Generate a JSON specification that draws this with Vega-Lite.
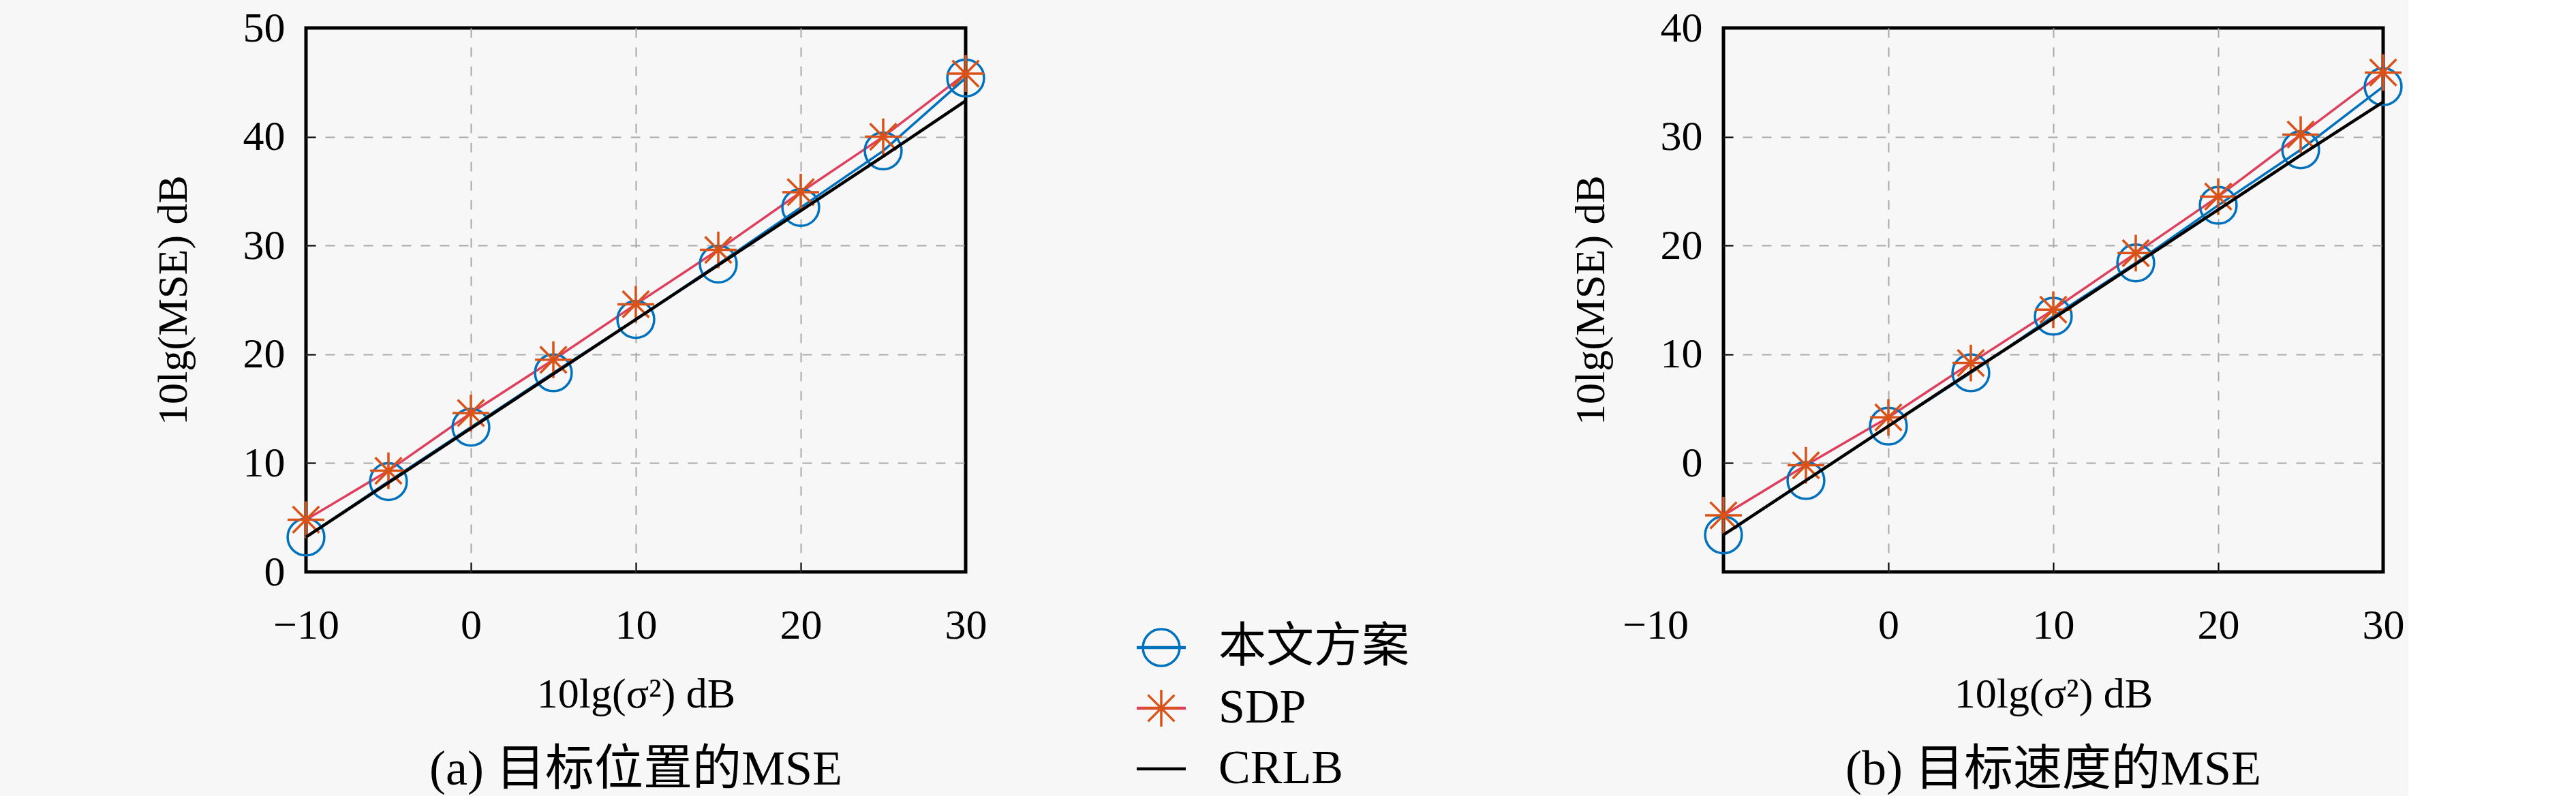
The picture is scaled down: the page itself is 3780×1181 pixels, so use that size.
{
  "$schema": "https://vega.github.io/schema/vega-lite/v6.json",
  "background": "#f7f7f7",
  "padding": {"left": 220, "top": 7, "right": 0, "bottom": 0},
  "spacing": 79,
  "config": {
    "font": "Liberation Serif, Noto Sans CJK SC",
    "view": {"stroke": "#000000", "strokeWidth": 5},
    "axis": {
      "domain": false,
      "grid": true,
      "gridDash": [14, 14],
      "gridColor": "#a8a8a8",
      "gridWidth": 2,
      "ticks": true,
      "tickColor": "#000000",
      "tickSize": -14,
      "tickWidth": 2,
      "labelFontSize": 62,
      "labelColor": "#000000",
      "labelFlush": false,
      "labelOverlap": false,
      "titleFontSize": 62,
      "titleFontWeight": "normal",
      "titleColor": "#000000"
    },
    "axisX": {"labelPadding": 62, "titlePadding": 40},
    "axisY": {"labelPadding": 45, "titlePadding": 70},
    "title": {"fontSize": 72, "fontWeight": "normal", "color": "#000000", "orient": "bottom", "offset": 45}
  },
  "datasets": {
    "pos": [
      {"x": -10, "series": "本文方案", "mse": 3.2},
      {"x": -5, "series": "本文方案", "mse": 8.3},
      {"x": 0, "series": "本文方案", "mse": 13.3},
      {"x": 5, "series": "本文方案", "mse": 18.3},
      {"x": 10, "series": "本文方案", "mse": 23.2},
      {"x": 15, "series": "本文方案", "mse": 28.3},
      {"x": 20, "series": "本文方案", "mse": 33.5},
      {"x": 25, "series": "本文方案", "mse": 38.7},
      {"x": 30, "series": "本文方案", "mse": 45.4},
      {"x": -10, "series": "SDP", "mse": 4.8},
      {"x": -5, "series": "SDP", "mse": 9.3},
      {"x": 0, "series": "SDP", "mse": 14.6},
      {"x": 5, "series": "SDP", "mse": 19.5},
      {"x": 10, "series": "SDP", "mse": 24.6},
      {"x": 15, "series": "SDP", "mse": 29.6},
      {"x": 20, "series": "SDP", "mse": 34.9},
      {"x": 25, "series": "SDP", "mse": 40.0},
      {"x": 30, "series": "SDP", "mse": 45.8},
      {"x": -10, "series": "CRLB", "mse": 3.2},
      {"x": -5, "series": "CRLB", "mse": 8.2},
      {"x": 0, "series": "CRLB", "mse": 13.2},
      {"x": 5, "series": "CRLB", "mse": 18.2},
      {"x": 10, "series": "CRLB", "mse": 23.2},
      {"x": 15, "series": "CRLB", "mse": 28.2},
      {"x": 20, "series": "CRLB", "mse": 33.2},
      {"x": 25, "series": "CRLB", "mse": 38.2},
      {"x": 30, "series": "CRLB", "mse": 43.3}
    ],
    "vel": [
      {"x": -10, "series": "本文方案", "mse": -6.6},
      {"x": -5, "series": "本文方案", "mse": -1.6},
      {"x": 0, "series": "本文方案", "mse": 3.4},
      {"x": 5, "series": "本文方案", "mse": 8.3},
      {"x": 10, "series": "本文方案", "mse": 13.5},
      {"x": 15, "series": "本文方案", "mse": 18.4},
      {"x": 20, "series": "本文方案", "mse": 23.7},
      {"x": 25, "series": "本文方案", "mse": 28.8},
      {"x": 30, "series": "本文方案", "mse": 34.6},
      {"x": -10, "series": "SDP", "mse": -4.8},
      {"x": -5, "series": "SDP", "mse": -0.2},
      {"x": 0, "series": "SDP", "mse": 4.2},
      {"x": 5, "series": "SDP", "mse": 9.2},
      {"x": 10, "series": "SDP", "mse": 14.1},
      {"x": 15, "series": "SDP", "mse": 19.3},
      {"x": 20, "series": "SDP", "mse": 24.5},
      {"x": 25, "series": "SDP", "mse": 30.2},
      {"x": 30, "series": "SDP", "mse": 35.9},
      {"x": -10, "series": "CRLB", "mse": -6.6},
      {"x": -5, "series": "CRLB", "mse": -1.6},
      {"x": 0, "series": "CRLB", "mse": 3.4},
      {"x": 5, "series": "CRLB", "mse": 8.4},
      {"x": 10, "series": "CRLB", "mse": 13.3},
      {"x": 15, "series": "CRLB", "mse": 18.3},
      {"x": 20, "series": "CRLB", "mse": 23.3},
      {"x": 25, "series": "CRLB", "mse": 28.3},
      {"x": 30, "series": "CRLB", "mse": 33.2}
    ],
    "key": [
      {"series": "本文方案", "row": 909, "x0": 135, "x1": 207, "xm": 171, "xt": 255},
      {"series": "SDP", "row": 998, "x0": 135, "x1": 207, "xm": 171, "xt": 255},
      {"series": "CRLB", "row": 1087, "x0": 135, "x1": 207, "xm": 171, "xt": 255}
    ]
  },
  "hconcat": [
    {
      "width": 968,
      "height": 798,
      "title": {"text": "(a) 目标位置的MSE"},
      "data": {"name": "pos"},
      "encoding": {
        "x": {"field": "x", "type": "quantitative", "scale": {"domain": [-10, 30], "nice": false},
              "axis": {"values": [-10, 0, 10, 20, 30], "title": "10lg(σ²) dB",
                       "gridOpacity": {"condition": {"test": "datum.value == -10 || datum.value == 30", "value": 0}, "value": 1}}},
        "y": {"field": "mse", "type": "quantitative", "scale": {"domain": [0, 50], "nice": false},
              "axis": {"values": [0, 10, 20, 30, 40, 50], "title": "10lg(MSE) dB",
                       "gridOpacity": {"condition": {"test": "datum.value == 0 || datum.value == 50", "value": 0}, "value": 1}}}
      },
      "layer": [
        {
          "transform": [{"filter": "datum.series != 'CRLB'"}],
          "mark": {"type": "line", "strokeWidth": 3.5},
          "encoding": {"color": {"field": "series", "type": "nominal", "legend": null,
            "scale": {"domain": ["本文方案", "SDP", "CRLB"], "range": ["#0072BD", "#DE3F5C", "#000000"]}}}
        },
        {
          "transform": [{"filter": "datum.series != 'CRLB'"}],
          "mark": {"type": "point", "filled": false, "strokeWidth": 3.5, "opacity": 1, "size": 2900},
          "encoding": {
            "stroke": {"field": "series", "type": "nominal", "legend": null,
              "scale": {"domain": ["本文方案", "SDP"], "range": ["#0072BD", "#D95319"]}},
            "shape": {"field": "series", "type": "nominal", "legend": null,
              "scale": {"domain": ["本文方案", "SDP"], "range": ["circle", "M0,-1L0,1M-1,0L1,0M-0.72,-0.72L0.72,0.72M-0.72,0.72L0.72,-0.72"]}}
          }
        },
        {
          "transform": [{"filter": "datum.series == 'CRLB'"}],
          "mark": {"type": "line", "strokeWidth": 4.5},
          "encoding": {"color": {"field": "series", "type": "nominal", "legend": null}}
        }
      ]
    },
    {
      "width": 688,
      "height": 1110,
      "view": {"stroke": null},
      "data": {"name": "key"},
      "encoding": {
        "y": {"field": "row", "type": "quantitative", "axis": null, "scale": {"domain": [0, 1110], "reverse": true, "nice": false}}
      },
      "layer": [
        {
          "mark": {"type": "rule", "strokeWidth": 4.5},
          "encoding": {
            "x": {"field": "x0", "type": "quantitative", "axis": null, "scale": {"domain": [0, 688], "nice": false}},
            "x2": {"field": "x1"},
            "color": {"field": "series", "type": "nominal", "legend": null,
              "scale": {"domain": ["本文方案", "SDP", "CRLB"], "range": ["#0072BD", "#DE3F5C", "#000000"]}}
          }
        },
        {
          "transform": [{"filter": "datum.series != 'CRLB'"}],
          "mark": {"type": "point", "filled": false, "strokeWidth": 3.5, "opacity": 1, "size": 2900},
          "encoding": {
            "x": {"field": "xm", "type": "quantitative"},
            "stroke": {"field": "series", "type": "nominal", "legend": null,
              "scale": {"domain": ["本文方案", "SDP"], "range": ["#0072BD", "#D95319"]}},
            "shape": {"field": "series", "type": "nominal", "legend": null,
              "scale": {"domain": ["本文方案", "SDP"], "range": ["circle", "M0,-1L0,1M-1,0L1,0M-0.72,-0.72L0.72,0.72M-0.72,0.72L0.72,-0.72"]}}
          }
        },
        {
          "mark": {"type": "text", "align": "left", "baseline": "middle", "fontSize": 70, "color": "#000000"},
          "encoding": {
            "x": {"field": "xt", "type": "quantitative"},
            "text": {"field": "series"}
          }
        }
      ]
    },
    {
      "width": 968,
      "height": 798,
      "title": {"text": "(b) 目标速度的MSE"},
      "data": {"name": "vel"},
      "encoding": {
        "x": {"field": "x", "type": "quantitative", "scale": {"domain": [-10, 30], "nice": false},
              "axis": {"values": [-10, 0, 10, 20, 30], "title": "10lg(σ²) dB",
                       "labelOffset": {"condition": {"test": "datum.value == -10", "value": -100}, "value": 0},
                       "gridOpacity": {"condition": {"test": "datum.value == -10 || datum.value == 30", "value": 0}, "value": 1}}},
        "y": {"field": "mse", "type": "quantitative", "scale": {"domain": [-10, 40], "nice": false},
              "axis": {"values": [0, 10, 20, 30, 40], "title": "10lg(MSE) dB",
                       "gridOpacity": {"condition": {"test": "datum.value == 40", "value": 0}, "value": 1}}}
      },
      "layer": [
        {
          "transform": [{"filter": "datum.series != 'CRLB'"}],
          "mark": {"type": "line", "strokeWidth": 3.5},
          "encoding": {"color": {"field": "series", "type": "nominal", "legend": null,
            "scale": {"domain": ["本文方案", "SDP", "CRLB"], "range": ["#0072BD", "#DE3F5C", "#000000"]}}}
        },
        {
          "transform": [{"filter": "datum.series != 'CRLB'"}],
          "mark": {"type": "point", "filled": false, "strokeWidth": 3.5, "opacity": 1, "size": 2900},
          "encoding": {
            "stroke": {"field": "series", "type": "nominal", "legend": null,
              "scale": {"domain": ["本文方案", "SDP"], "range": ["#0072BD", "#D95319"]}},
            "shape": {"field": "series", "type": "nominal", "legend": null,
              "scale": {"domain": ["本文方案", "SDP"], "range": ["circle", "M0,-1L0,1M-1,0L1,0M-0.72,-0.72L0.72,0.72M-0.72,0.72L0.72,-0.72"]}}
          }
        },
        {
          "transform": [{"filter": "datum.series == 'CRLB'"}],
          "mark": {"type": "line", "strokeWidth": 4.5},
          "encoding": {"color": {"field": "series", "type": "nominal", "legend": null}}
        }
      ]
    }
  ]
}
